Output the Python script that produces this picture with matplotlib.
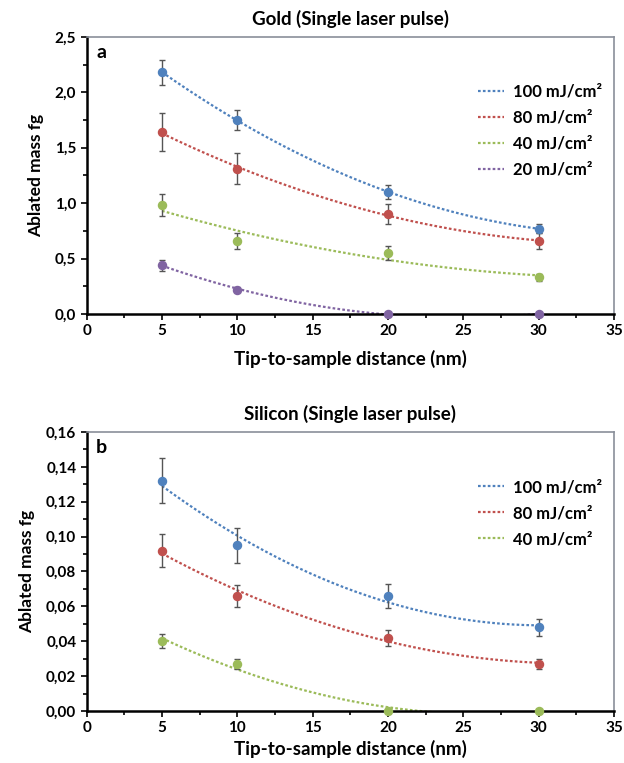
import numpy as np
import matplotlib.pyplot as plt
from matplotlib.ticker import MultipleLocator, FuncFormatter
from matplotlib.lines import Line2D

plt.rcParams['font.family'] = ['Lato', 'DejaVu Sans']
plt.rcParams['font.weight'] = 'bold'

distance = np.array([5, 10, 20, 30])

# Gold (single laser pulse) - ablated mass in fg
gold_labels = ["100 mJ/cm²", "80 mJ/cm²", "40 mJ/cm²", "20 mJ/cm²"]
gold_100 = [2.18, 1.75, 1.10, 0.77]
gold_100_err = [0.11, 0.09, 0.06, 0.04]
gold_80 = [1.64, 1.31, 0.90, 0.66]
gold_80_err = [0.17, 0.14, 0.09, 0.07]
gold_40 = [0.98, 0.66, 0.55, 0.33]
gold_40_err = [0.10, 0.07, 0.06, 0.03]
gold_20 = [0.44, 0.22, 0.0, 0.0]
gold_20_err = [0.05, 0.02, 0.0, 0.0]

# Silicon (single laser pulse)
si_labels = ["100 mJ/cm²", "80 mJ/cm²", "40 mJ/cm²"]
si_100 = [0.132, 0.095, 0.066, 0.048]
si_100_err = [0.013, 0.010, 0.007, 0.005]
si_80 = [0.092, 0.066, 0.042, 0.027]
si_80_err = [0.0095, 0.0065, 0.0045, 0.003]
si_40 = [0.040, 0.027, 0.0, 0.0]
si_40_err = [0.004, 0.003, 0.0, 0.0]

colors = ["#4F81BD", "#C0504D", "#9BBB59", "#8064A2"]

fig = plt.figure(figsize=(6.24, 7.63), dpi=100)
ax1 = fig.add_axes([0.139, 0.5885, 0.845, 0.363])
ax2 = fig.add_axes([0.139, 0.0682, 0.845, 0.3656])


def draw_panel(ax, series, errs, labels, ymax, ystep, fmt, title, letter, xpad):
    xs = np.linspace(5, 30, 200)
    for y, e, c in zip(series, errs, colors):
        # second order polynomial trend line, like the spreadsheet one
        p = np.polyfit(distance, y, 2)
        ax.plot(xs, np.polyval(p, xs), color=c, linestyle=(0, (1.2, 1.0)), lw=1.6, zorder=2)
        ax.errorbar(distance, y, yerr=e, fmt="o", color=c, ms=5.8, ecolor="#555555",
                    elinewidth=1.0, capsize=2, capthick=1.0, zorder=3, clip_on=False)
    ax.set_xlim(0, 35)
    ax.set_ylim(0, ymax)
    ax.xaxis.set_major_locator(MultipleLocator(5))
    ax.xaxis.set_minor_locator(MultipleLocator(2.5))
    ax.yaxis.set_major_locator(MultipleLocator(ystep))
    ax.yaxis.set_minor_locator(MultipleLocator(ystep / 2))
    ax.yaxis.set_major_formatter(FuncFormatter(lambda v, pos: fmt.format(v).replace(".", ",")))
    ax.tick_params(which="both", direction="out", length=4, width=1.2, labelsize=11)
    ax.tick_params(which="minor", length=3)
    for s in ["left", "bottom"]:
        ax.spines[s].set_linewidth(1.8)
        ax.spines[s].set_color("black")
    for s in ["top", "right"]:
        ax.spines[s].set_linewidth(1.2)
        ax.spines[s].set_color("#8a8f99")
    ax.set_xlabel("Tip-to-sample distance (nm)", fontsize=13.5, fontweight="bold", labelpad=xpad)
    ax.set_ylabel("Ablated mass fg", fontsize=12.5, fontweight="bold", labelpad=8)
    ax.set_title(title, fontsize=13.5, fontweight="bold", pad=9)
    ax.text(0.018, 0.975, letter, transform=ax.transAxes, fontsize=14,
            fontweight="bold", va="top", ha="left")
    handles = [Line2D([0], [0], color=c, linestyle=(0, (1.2, 1.0)), lw=1.6, label=l)
               for c, l in zip(colors, labels)]
    ax.legend(handles=handles, loc="upper right", bbox_to_anchor=(1.005, 0.885),
              frameon=False, fontsize=12, handlelength=1.6, handletextpad=0.5,
              labelspacing=0.6)


draw_panel(ax1, [gold_100, gold_80, gold_40, gold_20],
           [gold_100_err, gold_80_err, gold_40_err, gold_20_err],
           gold_labels, 2.5, 0.5, "{:.1f}", "Gold (Single laser pulse)", "a", 8)
draw_panel(ax2, [si_100, si_80, si_40], [si_100_err, si_80_err, si_40_err],
           si_labels, 0.16, 0.02, "{:.2f}", "Silicon (Single laser pulse)", "b", 3)

fig.savefig("out.png", dpi=100)
